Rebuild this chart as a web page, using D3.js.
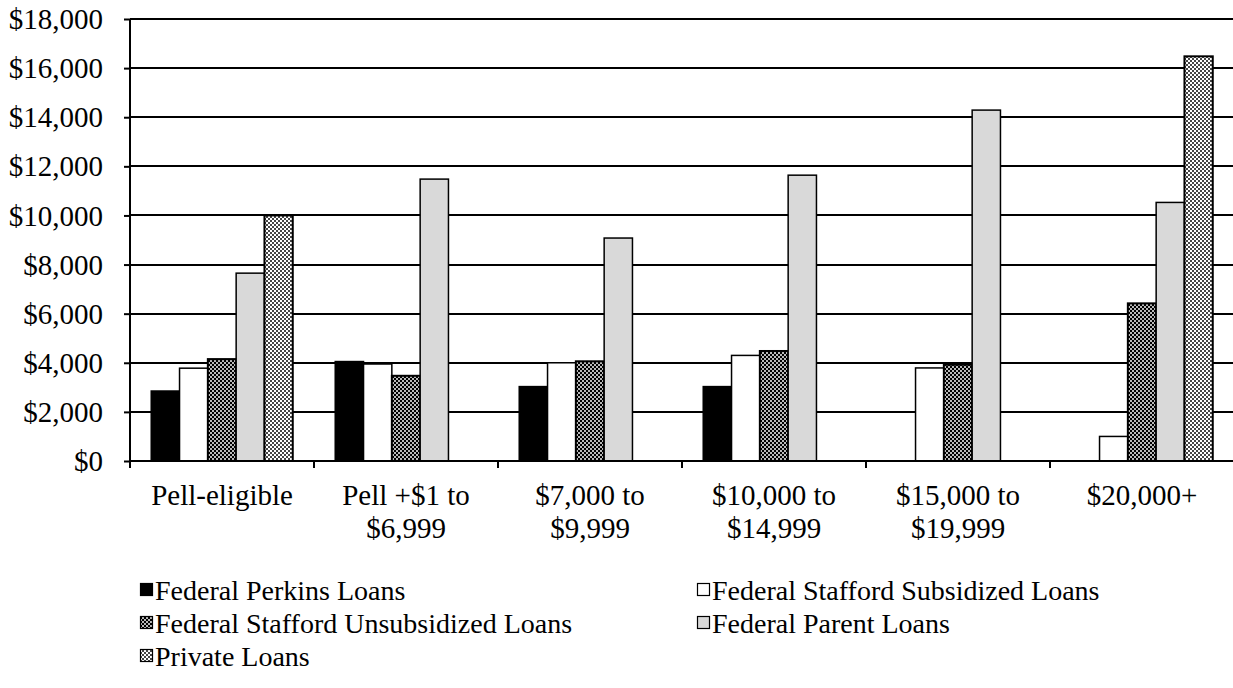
<!DOCTYPE html>
<html>
<head>
<meta charset="utf-8">
<script src="https://cdn.jsdelivr.net/npm/d3@7"></script>
<style>
  html, body { margin: 0; padding: 0; background: #fff; }
  svg { display: block; }
  text { font-family: "Liberation Serif", "Times New Roman", serif; fill: #000; }
</style>
</head>
<body>
<svg id="chart" width="1233" height="688"></svg>
<script>
// Income groups along the x axis ("\n" marks a line break in the label)
const categories = [
  "Pell-eligible",
  "Pell +$1 to\n$6,999",
  "$7,000 to\n$9,999",
  "$10,000 to\n$14,999",
  "$15,000 to\n$19,999",
  "$20,000+"
];

// Average loan amounts per group (null = no bar)
const perkins      = [2850, 4050, 3030, 3030, null, null];
const subsidized   = [3780, 3950, 4000, 4300, 3790, 1000];
const unsubsidized = [4150, 3470, 4060, 4480, 3920, 6420];
const parentLoans  = [7650, 11480, 9080, 11640, 14290, 10530];
const privateLoans = [10000, null, null, null, null, 16480];

const seriesNames = [
  "Federal Perkins Loans",
  "Federal Stafford Subsidized Loans",
  "Federal Stafford Unsubsidized Loans",
  "Federal Parent Loans",
  "Private Loans"
];
const seriesValues = [perkins, subsidized, unsubsidized, parentLoans, privateLoans];

const yTicks = [0, 2000, 4000, 6000, 8000, 10000, 12000, 14000, 16000, 18000];

const svg = d3.select("#chart");

// Fill patterns for the two checkered series
const defs = svg.append("defs");
const pDark = defs.append("pattern").attr("id", "checkDark")
  .attr("patternUnits", "userSpaceOnUse").attr("width", 4).attr("height", 4);
pDark.append("rect").attr("width", 4).attr("height", 4).attr("fill", "#000");
pDark.append("rect").attr("x", 0.15).attr("y", 0.15).attr("width", 1.7).attr("height", 1.7).attr("fill", "#fff");
pDark.append("rect").attr("x", 2.15).attr("y", 2.15).attr("width", 1.7).attr("height", 1.7).attr("fill", "#fff");

const pLight = defs.append("pattern").attr("id", "checkLight")
  .attr("patternUnits", "userSpaceOnUse").attr("width", 4).attr("height", 4);
pLight.append("rect").attr("width", 4).attr("height", 4).attr("fill", "#fff");
pLight.append("rect").attr("x", 0.15).attr("y", 0.15).attr("width", 1.7).attr("height", 1.7).attr("fill", "#000");
pLight.append("rect").attr("x", 2.15).attr("y", 2.15).attr("width", 1.7).attr("height", 1.7).attr("fill", "#000");

const fills = ["#000", "#fff", "url(#checkDark)", "#d9d9d9", "url(#checkLight)"];
const strokeW = [1.5, 1.5, 2, 1.5, 2];

const plot = { left: 130, right: 1234, top: 19, bottom: 461 };

const x0 = d3.scaleBand().domain(categories).range([plot.left, plot.right])
  .paddingInner(0).paddingOuter(0);
const x1 = d3.scaleBand().domain(d3.range(seriesNames.length)).range([0, x0.bandwidth()])
  .paddingInner(0).paddingOuter(0.75);
const y = d3.scaleLinear().domain([0, 18000]).range([plot.bottom, plot.top]);

// Horizontal gridlines
svg.append("g").selectAll("line").data(yTicks.filter(d => d > 0)).join("line")
  .attr("x1", plot.left).attr("x2", 1233)
  .attr("y1", d => Math.round(y(d))).attr("y2", d => Math.round(y(d)))
  .attr("stroke", "#000").attr("stroke-width", 2);

// Bars
const groups = svg.append("g").selectAll("g").data(categories).join("g")
  .attr("transform", d => `translate(${x0(d)},0)`);
groups.selectAll("rect")
  .data((c, gi) => seriesValues.map((vals, si) => ({ si, v: vals[gi] })).filter(d => d.v != null))
  .join("rect")
  .attr("x", d => x1(d.si))
  .attr("y", d => y(d.v))
  .attr("width", x1.bandwidth())
  .attr("height", d => y(0) - y(d.v))
  .attr("fill", d => fills[d.si])
  .attr("stroke", "#000")
  .attr("stroke-width", d => strokeW[d.si]);

// Y axis
const yAxis = svg.append("g").attr("transform", `translate(${plot.left},0)`)
  .call(d3.axisLeft(y).tickValues(yTicks).tickSize(6).tickPadding(21)
    .tickFormat(d => "$" + d3.format(",")(d)));
yAxis.select(".domain").attr("stroke", "#000").attr("stroke-width", 2)
  .attr("d", `M0,${plot.top}V${plot.bottom}`);
yAxis.selectAll(".tick line").attr("stroke", "#000").attr("stroke-width", 2);
yAxis.selectAll(".tick text").attr("font-size", 29)
  .attr("font-family", "Liberation Serif").attr("fill", "#000").attr("dy", "0.33em");

// X axis: baseline with tick marks at group boundaries
const xg = svg.append("g");
xg.append("line").attr("x1", plot.left).attr("x2", 1233)
  .attr("y1", plot.bottom).attr("y2", plot.bottom)
  .attr("stroke", "#000").attr("stroke-width", 2);
const bounds = categories.map(c => x0(c)).concat([plot.right]);
xg.selectAll("line.tk").data(bounds).join("line").attr("class", "tk")
  .attr("x1", d => d).attr("x2", d => d)
  .attr("y1", plot.bottom).attr("y2", plot.bottom + 7)
  .attr("stroke", "#000").attr("stroke-width", 2);

const labels = svg.append("g").selectAll("text").data(categories).join("text")
  .attr("x", d => x0(d) + x0.bandwidth() / 2)
  .attr("y", 505)
  .attr("text-anchor", "middle")
  .attr("font-size", 29);
labels.each(function(d) {
  const t = d3.select(this);
  d.split("\n").forEach((line, i) => {
    t.append("tspan").attr("x", x0(d) + x0.bandwidth() / 2)
      .attr("dy", i === 0 ? 0 : 33).text(line);
  });
});

// Legend
const legendPos = [
  { x: 140, y: 590 }, { x: 697, y: 590 },
  { x: 140, y: 623 }, { x: 697, y: 623 },
  { x: 140, y: 656 }
];
const legend = svg.append("g").selectAll("g").data(seriesNames).join("g")
  .attr("transform", (d, i) => `translate(${legendPos[i].x},${legendPos[i].y})`);
legend.append("rect")
  .attr("x", 0.5).attr("y", -6.5).attr("width", 12).attr("height", 12)
  .attr("fill", (d, i) => fills[i]).attr("stroke", "#000").attr("stroke-width", 1.2);
legend.append("text")
  .attr("x", 15).attr("y", 10)
  .attr("font-size", 28)
  .text(d => d);
</script>
</body>
</html>
